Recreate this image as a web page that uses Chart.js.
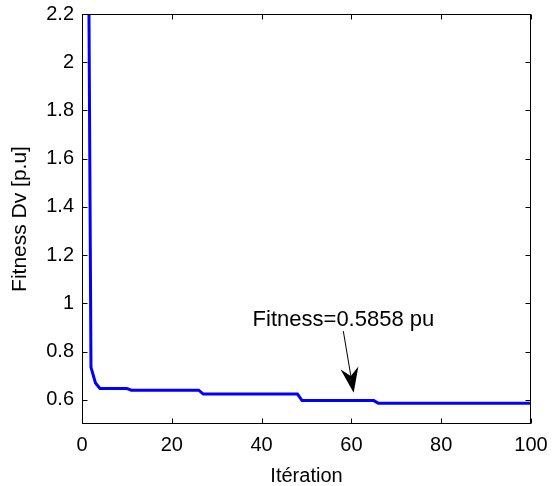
<!DOCTYPE html>
<html>
<head>
<meta charset="utf-8">
<script src="https://cdn.jsdelivr.net/npm/chart.js@4"></script>
<style>
  html, body { margin: 0; padding: 0; background: #fff; }
</style>
</head>
<body>
<canvas id="fit" width="552" height="486"></canvas>
<script>
// breakpoints of the convergence curve (iteration, fitness)
const iterations = [1, 2, 3, 4, 10, 11, 26, 27, 48, 49, 65, 66, 100];
const fitness = [4.0, 0.735, 0.67, 0.647, 0.647, 0.640, 0.640, 0.624, 0.624, 0.597, 0.597, 0.5858, 0.5858];
const xTicks = [0, 20, 40, 60, 80, 100];
const yTicks = [0.6, 0.8, 1, 1.2, 1.4, 1.6, 1.8, 2, 2.2];
const noteText = 'Fitness=0.5858 pu';
const notePos = [38, 0.905];
const arrowFrom = [58.2, 0.885];
const arrowTo = [60.5, 0.63];

const FONT = '"Liberation Sans", Arial, sans-serif';

const framePlugin = {
  id: 'frame',
  afterDatasetsDraw(chart) {
    const { ctx, chartArea: a, scales: { x, y } } = chart;
    ctx.save();
    ctx.strokeStyle = '#000';
    ctx.lineWidth = 1;
    const L = Math.round(a.left) + 0.5, R = Math.round(a.right) - 0.5;
    const T = Math.round(a.top) + 0.5, B = Math.round(a.bottom) - 0.5;
    ctx.strokeRect(L, T, R - L, B - T);
    const len = 5;
    ctx.beginPath();
    x.ticks.forEach(t => {
      const px = Math.round(x.getPixelForValue(t.value)) + 0.5;
      ctx.moveTo(px, B); ctx.lineTo(px, B - len);
      ctx.moveTo(px, T); ctx.lineTo(px, T + len);
    });
    y.ticks.forEach(t => {
      const py = Math.round(y.getPixelForValue(t.value)) + 0.5;
      ctx.moveTo(L, py); ctx.lineTo(L + len, py);
      ctx.moveTo(R, py); ctx.lineTo(R - len, py);
    });
    ctx.stroke();

    // annotation text + arrow
    ctx.fillStyle = '#000';
    ctx.font = '22px ' + FONT;
    ctx.textAlign = 'left';
    ctx.textBaseline = 'alphabetic';
    ctx.fillText(noteText, x.getPixelForValue(notePos[0]), y.getPixelForValue(notePos[1]));

    const fx = x.getPixelForValue(arrowFrom[0]), fy = y.getPixelForValue(arrowFrom[1]);
    const tx = x.getPixelForValue(arrowTo[0]), ty = y.getPixelForValue(arrowTo[1]);
    const d = Math.hypot(tx - fx, ty - fy);
    const ux = (tx - fx) / d, uy = (ty - fy) / d;
    const nx = -uy, ny = ux;
    const headLen = 25, halfW = 9, notch = 17;
    ctx.beginPath();
    ctx.moveTo(fx, fy);
    ctx.lineTo(tx - ux * notch, ty - uy * notch);
    ctx.stroke();
    ctx.beginPath();
    ctx.moveTo(tx, ty);
    ctx.lineTo(tx - ux * headLen + nx * halfW, ty - uy * headLen + ny * halfW);
    ctx.lineTo(tx - ux * notch, ty - uy * notch);
    ctx.lineTo(tx - ux * headLen - nx * halfW, ty - uy * headLen - ny * halfW);
    ctx.closePath();
    ctx.fill();
    ctx.restore();
  }
};

new Chart(document.getElementById('fit').getContext('2d'), {
  type: 'line',
  data: {
    datasets: [{
      data: iterations.map((it, i) => ({ x: it, y: fitness[i] })),
      borderColor: '#0000ff',
      borderWidth: 3,
      pointRadius: 0,
      tension: 0,
      clip: 0
    }]
  },
  options: {
    responsive: false,
    animation: false,
    layout: { padding: { top: 14, right: 21, left: 0, bottom: 0 } },
    plugins: { legend: { display: false }, tooltip: { enabled: false } },
    scales: {
      x: {
        type: 'linear',
        min: 0,
        max: 100,
        afterBuildTicks: s => { s.ticks = xTicks.map(v => ({ value: v })); },
        afterFit: s => {
          s.height = 62;
          s.paddingLeft = 0; s.paddingRight = 0; s.paddingTop = 0; s.paddingBottom = 0;
        },
        grid: { display: false, drawTicks: false },
        border: { display: false },
        ticks: {
          color: '#000',
          font: { family: FONT, size: 20 },
          padding: 9,
          maxRotation: 0,
          autoSkip: false,
          callback: v => String(v)
        },
        title: {
          display: true,
          text: 'Itération',
          color: '#000',
          font: { family: FONT, size: 20 },
          padding: { top: 0, bottom: -2 }
        }
      },
      y: {
        min: 0.5,
        max: 2.2,
        afterBuildTicks: s => { s.ticks = yTicks.map(v => ({ value: v })); },
        afterFit: s => {
          s.width = 82;
          s.paddingLeft = 0; s.paddingRight = 0; s.paddingTop = 0; s.paddingBottom = 0;
        },
        grid: { display: false, drawTicks: false },
        border: { display: false },
        ticks: {
          color: '#000',
          font: { family: FONT, size: 20 },
          padding: 8,
          autoSkip: false,
          callback: v => String(v)
        },
        title: {
          display: true,
          text: 'Fitness Dv [p.u]',
          color: '#000',
          font: { family: FONT, size: 21 },
          padding: { top: 8, bottom: 0 }
        }
      }
    }
  },
  plugins: [framePlugin]
});
</script>
</body>
</html>
